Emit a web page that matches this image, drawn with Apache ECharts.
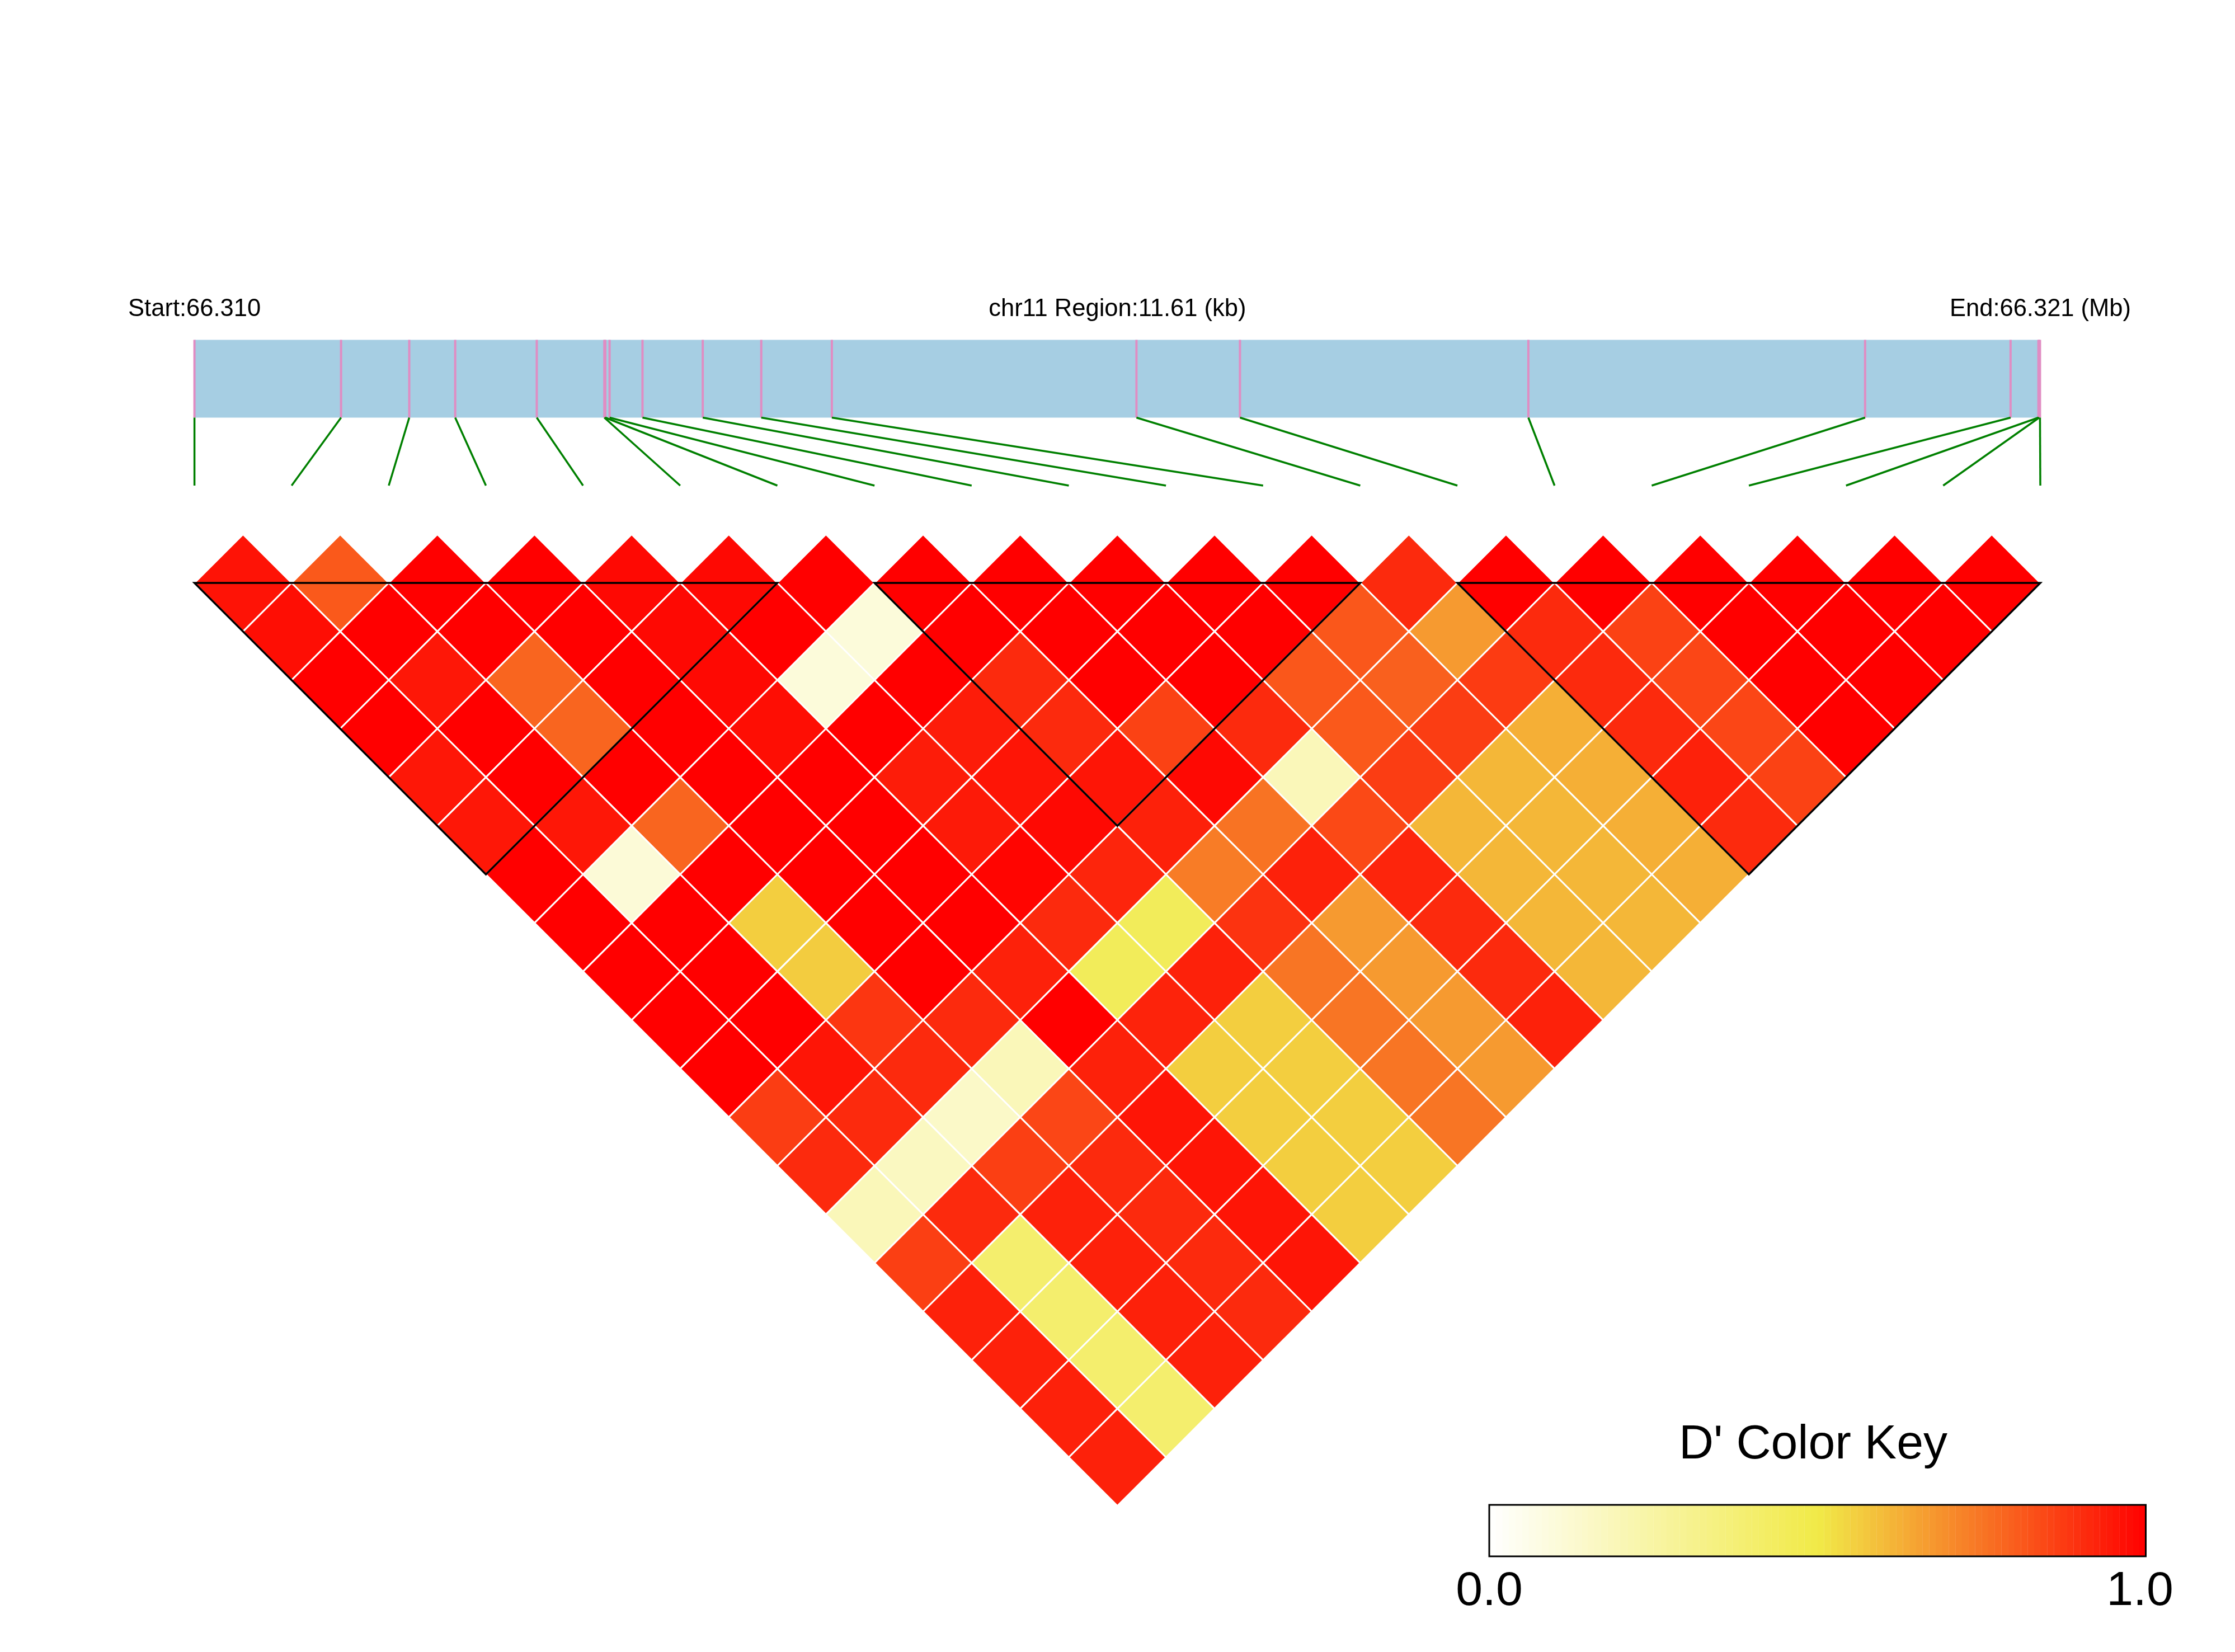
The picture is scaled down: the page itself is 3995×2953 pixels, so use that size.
<!DOCTYPE html>
<html>
<head>
<meta charset="utf-8">
<title>LD heatmap chr11</title>
<style>html,body{margin:0;padding:0;background:#fff}#chart{width:3995px;height:2953px}</style>
<script src="https://cdn.jsdelivr.net/npm/echarts@6/dist/echarts.min.js"></script>
</head>
<body>
<div id="chart"></div>
<script>
// SNP positions along the region, in kb from the region start
const snpKb = [0, 0.922, 1.351, 1.640, 2.153, 2.578, 2.584, 2.611, 2.818, 3.197, 3.565, 4.009,
  5.925, 6.576, 8.390, 10.508, 11.423, 11.598, 11.603, 11.608];
const regionKb = 11.61;
const regionLabels = ['Start:66.310', 'chr11 Region:11.61 (kb)', 'End:66.321 (Mb)'];
const regionLabelAt = [0, 5.805, 11.61];

// D' values, one array per SNP separation (row 0 = neighbouring SNPs)
const row0 = [.96,.81,1,1,.98,.98,1,1,1,1,1,1,.91,1,1,1,1,1,1];
const row1 = [.97,1,1,1,.98,1,.10,1,1,1,1,.815,.67,.91,.86,1,1,1];
const row2 = [1,.95,.785,1,.98,.10,1,.91,1,1,.815,.795,.875,.91,.85,1,1];
const row3 = [1,1,.785,1,.97,1,.94,.91,.86,.91,.81,.87,.627,.91,.85,1];
const row4 = [.95,1,1,1,1,.94,.955,.955,.98,.19,.87,.61,.627,.93,.86];
const row5 = [.95,.95,.785,1,1,.945,.98,.93,.755,.845,.61,.61,.627,.91];
const row6 = [1,.11,1,1,1,.99,.92,.735,.93,.92,.61,.61,.627];
const row7 = [1,1,.56,1,1,.91,.45,.89,.67,.91,.61,.61];
const row8 = [1,1,.565,1,.93,.45,.93,.75,.67,.91,.61];
const row9 = [1,1,.885,.91,1,.925,.56,.75,.67,.93];
const row10 = [1,.955,.91,.19,.93,.56,.56,.75,.67];
const row11 = [.87,.91,.15,.85,.955,.56,.56,.75];
const row12 = [.91,.17,.865,.91,.955,.56,.56];
const row13 = [.19,.91,.93,.91,.955,.56];
const row14 = [.865,.40,.93,.91,.955];
const row15 = [.93,.40,.93,.91];
const row16 = [.93,.40,.93];
const row17 = [.93,.40];
const row18 = [.93];
const dPrimeRows = [row0,row1,row2,row3,row4,row5,row6,row7,row8,row9,row10,row11,row12,row13,row14,row15,row16,row17,row18];

// LD blocks: first and last SNP index
const blocks = [[0, 6], [7, 12], [13, 19]];

// Colour key levels
const keyLevels = [0.005,0.015,0.025,0.035,0.045,0.055,0.065,0.075,0.085,0.095,
  0.105,0.115,0.125,0.135,0.145,0.155,0.165,0.175,0.185,0.195,
  0.205,0.215,0.225,0.235,0.245,0.255,0.265,0.275,0.285,0.295,
  0.305,0.315,0.325,0.335,0.345,0.355,0.365,0.375,0.385,0.395,
  0.405,0.415,0.425,0.435,0.445,0.455,0.465,0.475,0.485,0.495,
  0.505,0.515,0.525,0.535,0.545,0.555,0.565,0.575,0.585,0.595,
  0.605,0.615,0.625,0.635,0.645,0.655,0.665,0.675,0.685,0.695,
  0.705,0.715,0.725,0.735,0.745,0.755,0.765,0.775,0.785,0.795,
  0.805,0.815,0.825,0.835,0.845,0.855,0.865,0.875,0.885,0.895,
  0.905,0.915,0.925,0.935,0.945,0.955,0.965,0.975,0.985,0.995];
// The "1.0" label sits just inside the right end of the key in the reference
const keyTicks = [0, 0.991];
const keyTitle = "D' Color Key";

const FONT = '"Liberation Sans", Arial, sans-serif';
const heatCells = [];
dPrimeRows.forEach((row, k) => row.forEach((v, i) => heatCells.push([i, k, v])));
const connectors = snpKb.map((kb, idx) => [kb, idx * regionKb / 19]);

const hiddenAxis = (gridIndex, min, max, inverse) => ({type: 'value', gridIndex, min, max, inverse: !!inverse, show: false});

const option = {
  backgroundColor: '#fff',
  animation: false,
  title: {text: keyTitle, left: 3236, top: 2535, textAlign: 'center',
    textStyle: {fontFamily: FONT, fontSize: 86, fontWeight: 'normal', color: '#000'}},
  visualMap: {show: false, min: 0, max: 1, dimension: 2, seriesIndex: [0, 5],
    inRange: {color: ['#ffffff', '#f1ea48', '#ff0000']}},
  grid: [
    {left: 347.6, width: 3299.4, top: 955.2, height: 1736.6},   // heatmap
    {left: 347.6, width: 3299.4, top: 607.5, height: 139},      // region band
    {left: 347.6, width: 3299.4, top: 746.5, height: 121.5},    // connectors
    {left: 2662, width: 1173.5, top: 2690, height: 92}          // key
  ],
  xAxis: [
    hiddenAxis(0, 0, 19),
    {type: 'value', gridIndex: 1, min: 0, max: regionKb, position: 'top',
      axisLine: {show: false}, axisTick: {show: false}, splitLine: {show: false},
      axisLabel: {customValues: regionLabelAt, margin: 33, fontFamily: FONT, fontSize: 43.5, color: '#000',
        formatter: v => regionLabels[regionLabelAt.indexOf(v)]}},
    hiddenAxis(2, 0, regionKb),
    {type: 'value', gridIndex: 3, min: 0, max: 1, position: 'bottom',
      axisLine: {show: false}, axisTick: {show: false}, splitLine: {show: false},
      axisLabel: {customValues: keyTicks, margin: 20, fontFamily: FONT, fontSize: 86, color: '#000',
        formatter: v => v.toFixed(1)}}
  ],
  yAxis: [
    hiddenAxis(0, -1, 19, true),
    hiddenAxis(1, 0, 1),
    hiddenAxis(2, 0, 1, true),
    hiddenAxis(3, 0, 1)
  ],
  series: [
    { // 0 heat cells
      type: 'custom', coordinateSystem: 'cartesian2d', xAxisIndex: 0, yAxisIndex: 0, silent: true, clip: false, z: 2,
      data: heatCells,
      renderItem(params, api) {
        const i = api.value(0), k = api.value(1);
        const c = i + (k + 1) / 2;
        return {type: 'polygon',
          shape: {points: [api.coord([c - .5, k]), api.coord([c, k - 1]), api.coord([c + .5, k]), api.coord([c, k + 1])]},
          style: {fill: api.visual('color'), stroke: '#ffffff', lineWidth: 3}};
      }
    },
    { // 1 block outlines
      type: 'custom', coordinateSystem: 'cartesian2d', xAxisIndex: 0, yAxisIndex: 0, silent: true, clip: false, z: 3,
      data: blocks,
      renderItem(params, api) {
        const a = api.value(0), b = api.value(1);
        return {type: 'polygon',
          shape: {points: [api.coord([a, 0]), api.coord([b, 0]), api.coord([(a + b) / 2, b - a])]},
          style: {fill: 'none', stroke: '#000000', lineWidth: 3.5}};
      }
    },
    { // 2 region band
      type: 'custom', coordinateSystem: 'cartesian2d', xAxisIndex: 1, yAxisIndex: 1, silent: true, clip: false, z: 2,
      data: [[0, regionKb]],
      renderItem(params, api) {
        const p0 = api.coord([api.value(0), 1]), p1 = api.coord([api.value(1), 0]);
        return {type: 'rect', shape: {x: p0[0], y: p0[1], width: p1[0] - p0[0], height: p1[1] - p0[1]},
          style: {fill: '#a6cee3'}};
      }
    },
    { // 3 SNP ticks on the band
      type: 'custom', coordinateSystem: 'cartesian2d', xAxisIndex: 1, yAxisIndex: 1, silent: true, clip: false, z: 3,
      data: snpKb.map(kb => [kb]),
      renderItem(params, api) {
        const p0 = api.coord([api.value(0), 1]), p1 = api.coord([api.value(0), 0]);
        return {type: 'line', shape: {x1: p0[0], y1: p0[1], x2: p1[0], y2: p1[1]},
          style: {stroke: '#e08dc3', lineWidth: 4}};
      }
    },
    { // 4 connectors
      type: 'custom', coordinateSystem: 'cartesian2d', xAxisIndex: 2, yAxisIndex: 2, silent: true, clip: false, z: 3,
      data: connectors,
      renderItem(params, api) {
        const p0 = api.coord([api.value(0), 0]), p1 = api.coord([api.value(1), 1]);
        return {type: 'line', shape: {x1: p0[0], y1: p0[1], x2: p1[0], y2: p1[1]},
          style: {stroke: '#008000', lineWidth: 3.5}};
      }
    },
    { // 5 colour key
      type: 'custom', coordinateSystem: 'cartesian2d', xAxisIndex: 3, yAxisIndex: 3, silent: true, clip: false, z: 2,
      data: keyLevels.map(v => [v, 0, v]),
      renderItem(params, api) {
        const v = api.value(0);
        const p0 = api.coord([v - .005, 1]), p1 = api.coord([v + .005, 0]);
        return {type: 'rect', shape: {x: p0[0], y: p0[1], width: p1[0] - p0[0] + .3, height: p1[1] - p0[1]},
          style: {fill: api.visual('color')}};
      }
    },
    { // 6 colour key frame
      type: 'custom', coordinateSystem: 'cartesian2d', xAxisIndex: 3, yAxisIndex: 3, silent: true, clip: false, z: 3,
      data: [[0, 1]],
      renderItem(params, api) {
        const p0 = api.coord([api.value(0), 1]), p1 = api.coord([api.value(1), 0]);
        return {type: 'rect', shape: {x: p0[0], y: p0[1], width: p1[0] - p0[0], height: p1[1] - p0[1]},
          style: {fill: 'none', stroke: '#000000', lineWidth: 3}};
      }
    }
  ]
};
echarts.init(document.getElementById('chart')).setOption(option);
</script>
</body>
</html>
